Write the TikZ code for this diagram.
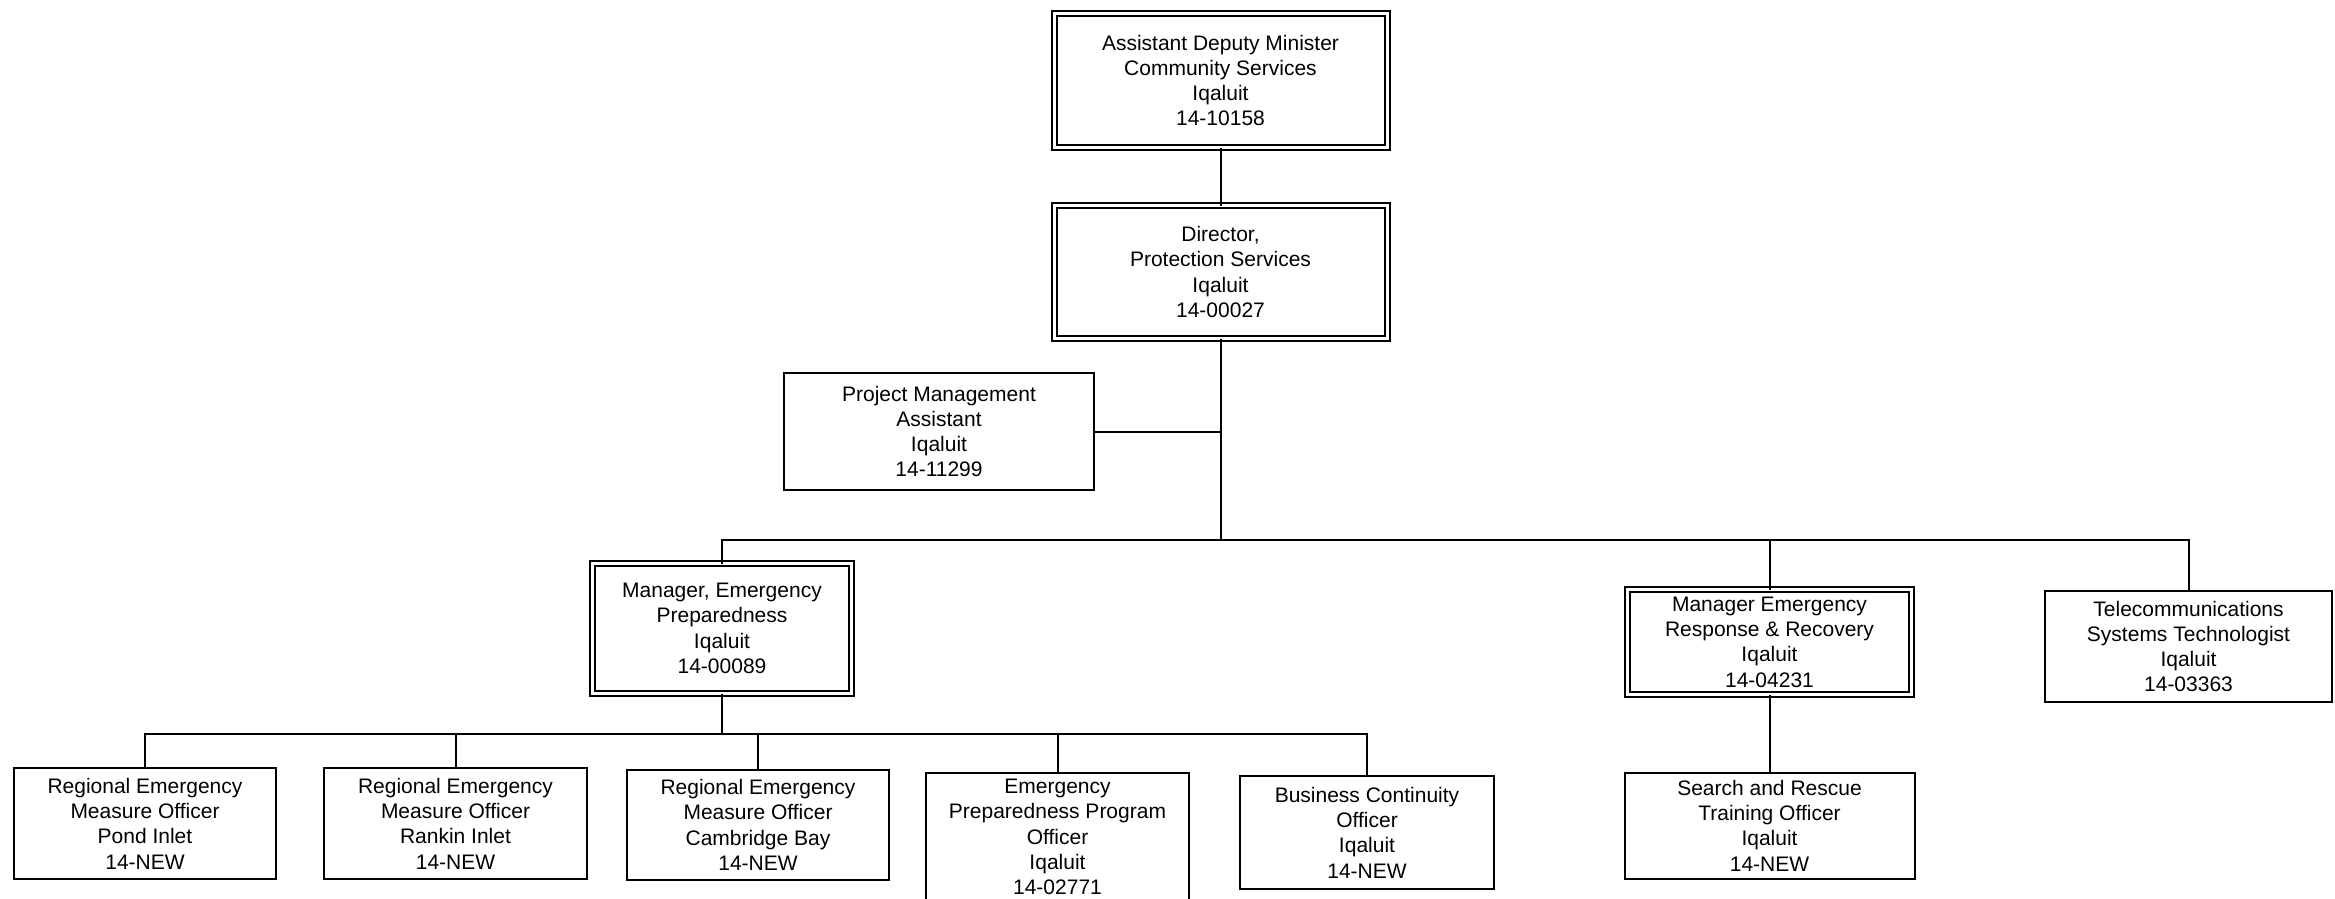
\documentclass[tikz,border=0pt]{standalone}
\usepackage{fontspec}
\setmainfont{Liberation Sans}
\usetikzlibrary{positioning}

\begin{document}
\begin{tikzpicture}[x=1pt, y=1pt, line width=2pt,
    post/.style={draw, align=center, inner sep=0pt, outer sep=0pt,
      font=\fontsize{21}{25.3}\selectfont},
    head/.style={post, double, double distance=3pt},
    sz/.style 2 args={minimum width=#1pt, minimum height=#2pt}]
  \useasboundingbox (0,0) rectangle (2335,-898);

  \node [head, sz={333}{134}] (a) at (1220.5,-80.5) {Assistant Deputy Minister\\Community Services\\Iqaluit\\14-10158};
  \node [head, sz={333}{133}, below=58pt of a] (b) {Director,\\Protection Services\\Iqaluit\\14-00027};
  \node [post, sz={310}{117}] (c) at (939,-431.5) {Project Management\\Assistant\\Iqaluit\\14-11299};

  \node [head, sz={259}{130}] (d) at (722,-628.5) {Manager, Emergency\\Preparedness\\Iqaluit\\14-00089};
  \node [head, sz={284}{105}] (e) at (1769.5,-642) {Manager Emergency\\Response \& Recovery\\Iqaluit\\14-04231};
  \node [post, sz={287}{111}] (f) at (2188.5,-646.5) {Telecommunications\\Systems Technologist\\Iqaluit\\14-03363};
  \node [post, sz={290}{106}, below=78pt of e] (g) {Search and Rescue\\Training Officer\\Iqaluit\\14-NEW};

  % regional and program staff
  \node [post, sz={262}{111}] (h) at (145,-823.5) {Regional Emergency\\Measure Officer\\Pond Inlet\\14-NEW};
  \node [post, sz={263}{111}] (i) at (455.5,-823.5) {Regional Emergency\\Measure Officer\\Rankin Inlet\\14-NEW};
  \node [post, sz={262}{110}] (j) at (758,-825) {Regional Emergency\\Measure Officer\\Cambridge Bay\\14-NEW};
  \node [post, sz={263}{128}] (k) at (1057.5,-837) {Emergency\\Preparedness Program\\Officer\\Iqaluit\\14-02771};
  \node [post, sz={254}{113}] (l) at (1367,-832.5) {Business Continuity\\Officer\\Iqaluit\\14-NEW};

  \coordinate (t) at (b.south |- 0,-540);
  \coordinate (u) at (d.south |- 0,-734);

  \draw (a) -- (b);
  \draw (b) -- (t);
  \draw (c.east) -- (c.east -| t);
  \foreach \n in {d,e,f}
    \draw (t) -| (\n);
  \draw (e) -- (g);
  \draw (d) -- (u);
  \foreach \n in {h,i,j,k,l}
    \draw (u) -| (\n);
\end{tikzpicture}
\end{document}
